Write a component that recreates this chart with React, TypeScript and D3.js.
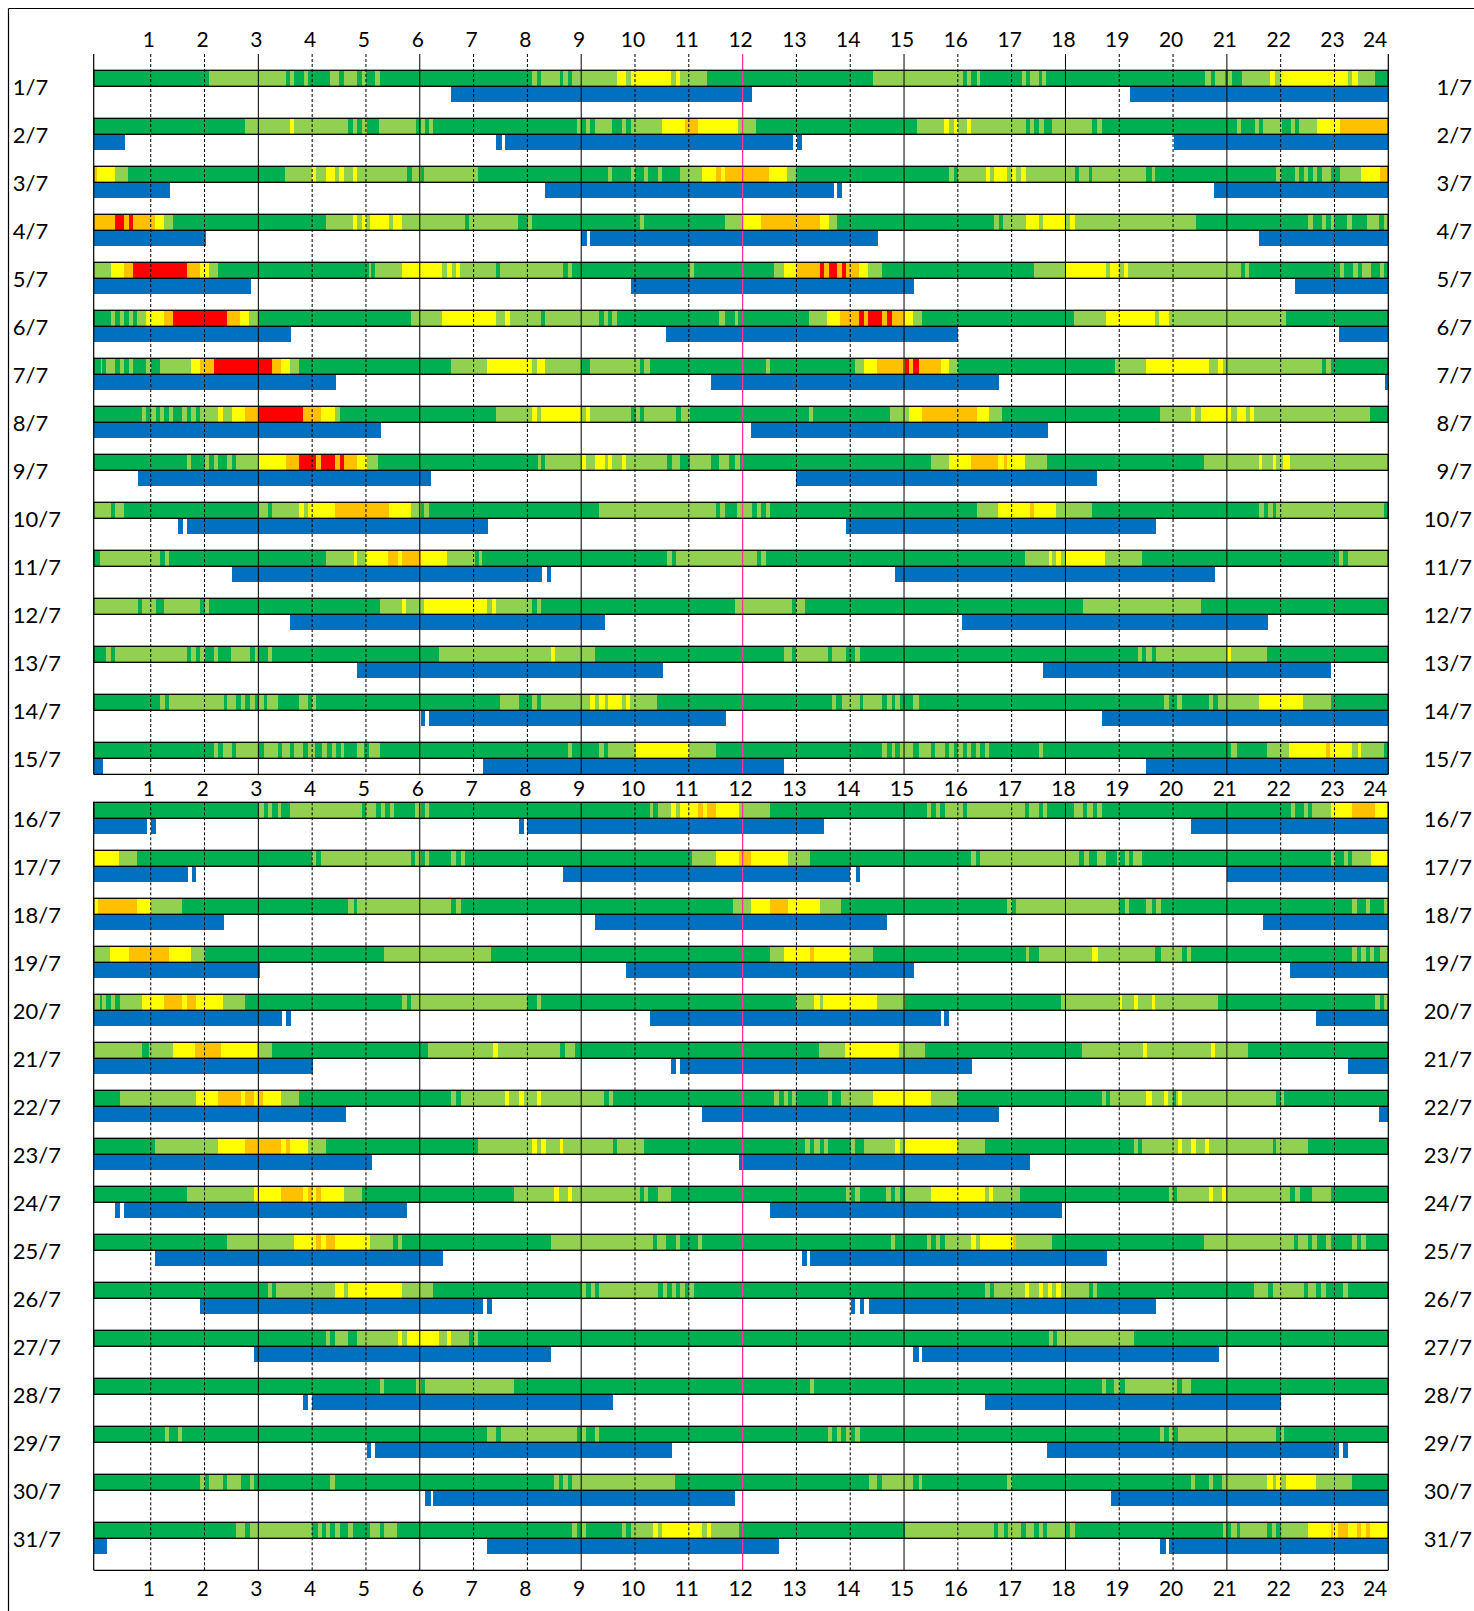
import React from 'react';
import * as d3 from 'd3';

const days = ['1/7','2/7','3/7','4/7','5/7','6/7','7/7','8/7','9/7','10/7','11/7','12/7','13/7','14/7','15/7','16/7','17/7','18/7','19/7','20/7','21/7','22/7','23/7','24/7','25/7','26/7','27/7','28/7','29/7','30/7','31/7'];
const hourTicks = [1,2,3,4,5,6,7,8,9,10,11,12,13,14,15,16,17,18,19,20,21,22,23,24];
const solidHours = [3,6,9,15,18,21];
const noonHour = 12;

// status timeline: "<code><start hour>" tokens; G dark green, L light green, Y yellow, O orange, R red
const statusRows = [
  "G0 L2.08 G3.52 L3.59 G3.66 L3.84 G3.92 L4.33 G4.5 L4.59 G4.84 L4.93 G5 L5.17 G5.26 L8.09 G8.17 L8.25 G8.6 L8.66 G8.76 L8.83 Y9.67 L9.84 Y9.93 L10.67 Y10.77 L10.83 G11.34 L14.43 G16.09 L16.17 G16.25 L16.35 G16.42 L17.19 G17.27 L17.35 G17.5 L17.56 G17.64 L20.6 G20.7 L20.78 G20.97 L21.03 G21.1 L21.28 Y21.8 L21.9 Y22 L23.25 Y23.33 L23.43 G23.76",
  "G0 L2.75 Y3.59 L3.66 G4.67 L4.76 G4.84 L4.93 G5.02 L5.25 G5.93 L6.02 G6.1 L6.18 G6.25 L8.93 G9 L9.09 G9.17 L9.26 G9.58 L9.76 G9.84 L9.93 Y10.51 O10.92 Y11.18 L11.92 G12.25 L15.24 Y15.75 L15.84 Y15.92 L16 Y16.17 L16.25 G17.26 L17.34 G17.42 L17.51 G17.6 L17.75 G18.5 L18.58 G18.67 L21.18 G21.26 L21.52 G21.6 L21.67 G22.02 L22.19 G22.27 L22.34 Y22.67 O23.1",
  "O-0.06 Y0 L0.34 G0.58 L3.5 Y4 L4.08 Y4.26 L4.42 Y4.5 L4.59 Y4.76 L4.84 G5.77 L5.85 G6.02 L6.08 G7.08 L9.5 G9.58 L9.93 G10 L10.17 G10.24 L10.43 G10.5 L10.84 Y11.25 O11.51 Y11.59 O11.67 Y12.49 L12.83 G13 L15.84 G15.92 L16 Y16.52 L16.6 Y16.68 L16.92 Y17 L17.09 Y17.18 L17.26 G18.17 L18.26 G18.43 L18.5 G19.5 L19.6 G19.67 L21.92 G22 L22.26 G22.34 L22.43 G22.51 L22.6 G22.68 L22.76 G22.93 L23.1 Y23.5 O23.84",
  "O0 R0.34 O0.5 R0.6 O0.67 Y1.08 L1.25 G1.41 L4.26 Y4.76 L4.84 Y4.93 L5 Y5.08 L5.43 Y5.51 L5.67 G6.84 L6.92 G7.83 L8.01 G8.09 L10.09 G10.17 L11.68 Y12 O12.35 Y13.43 L13.6 G13.76 L16.68 G16.76 L16.84 Y17.26 L17.51 Y17.59 L18 Y18.09 L18.17 G20.42 L22.5 G22.6 L22.76 G22.84 L22.93 G23 L23.24 G23.33 L23.6 G23.83 L23.92",
  "L0 Y0.27 O0.51 R0.67 O1.67 Y1.92 L2.08 G2.25 L5.06 G5.1 L5.17 Y5.67 L6.42 Y6.51 L6.6 Y6.67 L6.75 G7.42 L7.5 G8.66 L8.76 G8.83 L11.03 G11.1 L12.59 Y12.76 O13 R13.43 O13.51 R13.6 O13.76 R13.84 O13.92 Y14.17 L14.33 G14.59 L17.42 Y18 L18.75 Y18.83 L19 Y19.08 L19.16 G21.26 L21.34 G21.42 L23.1 G23.17 L23.34 G23.43 L23.51 G23.68 L23.84 G23.92",
  "G0 L0.27 G0.34 L0.42 G0.51 L0.59 G0.67 L0.75 Y0.92 O1.25 R1.42 O2.42 Y2.65 L2.82 G3 L5.84 Y6.42 L7.42 Y7.58 L7.67 G8.25 L8.33 G9.33 L9.42 G9.5 L9.58 G9.67 L11.57 G11.67 L11.85 G11.92 L13.23 Y13.57 O13.81 R14.17 O14.25 R14.33 O14.59 R14.68 O14.77 Y15.02 L15.17 G15.33 L18.16 Y18.75 L19.67 Y19.74 L19.92 G22.09",
  "G0 L0.07 G0.1 L0.17 G0.34 L0.42 G0.51 L0.59 G0.67 L0.92 G1 L1.17 Y1.75 O1.92 R2.18 O3.26 Y3.43 L3.59 G3.76 L6.58 Y7.25 L8.09 Y8.17 L8.33 G9.01 L9.17 G10.09 L10.17 G10.27 L12.43 G12.5 L14.09 Y14.26 O14.5 R15.02 O15.1 R15.17 O15.27 Y15.68 L15.84 G16 L18.93 Y19.5 L20.67 Y20.84 L20.92 G22.76 L22.84 G22.93",
  "G0 L0.84 G0.92 L1.01 G1.09 L1.17 G1.25 L1.34 G1.42 L1.58 G1.67 L1.75 G1.84 L1.92 Y2.25 L2.34 Y2.51 O2.75 R3 O3.83 Y4.16 L4.43 G4.51 L7.42 Y8.09 L8.17 Y8.25 L9 Y9.09 L9.17 G9.93 L10.01 G10.09 L10.17 G10.77 L10.85 G11.03 L13.23 G13.31 L14.74 Y15.1 O15.34 Y16.35 L16.58 G16.82 L19.76 Y20.34 L20.41 Y20.51 L21.08 Y21.18 L21.35 Y21.43 L21.5 G23.66",
  "G0 L1.67 G1.75 L2 G2.08 L2.17 G2.25 L2.42 G2.51 L2.59 Y3 O3.51 R3.76 O4.08 R4.16 O4.43 R4.51 O4.59 Y4.84 L5.02 G5.23 L8.19 G8.25 L8.33 Y9 L9.09 Y9.26 L9.44 Y9.5 L9.58 Y9.76 L9.84 G10.6 L10.68 G10.84 L11.03 G11.42 L11.57 G11.75 L11.85 G11.95 L15.51 Y15.84 O16.25 Y16.75 O16.85 Y16.91 L17.25 G17.66 L20.58 Y21.59 L21.66 Y21.85 L21.92 Y22.05 L22.18",
  "L0 G0.27 L0.34 G0.51 L3 G3.18 L3.26 Y3.76 L3.84 Y3.92 O4.43 Y5.43 L5.84 G6.02 L6.07 G6.17 L9.33 G11.5 L11.58 G11.68 L11.9 G12.18 L12.26 G12.35 L12.43 G12.5 L16.35 Y16.75 O17.34 Y17.41 L17.83 G18.5 L21.59 G21.69 L21.76 G21.85 L21.92 G23.92",
  "G0 L0.05 G1.17 L1.27 G1.34 L4.26 Y4.77 L4.84 Y5 O5.41 Y5.59 O5.67 Y6.02 L6.51 G7.03 L7.1 G7.16 L10.6 G10.68 L10.77 G12.26 L12.35 G12.43 L17.25 Y17.69 L17.75 Y17.83 L17.91 Y18 L18.74 G19.43 L23.09 G23.16 L23.26",
  "L0 G0.77 L0.84 G1.09 L1.25 G1.92 L2 G2.08 L5.27 Y5.67 L5.74 Y6.07 L7.25 Y7.35 L7.42 G8.09 L8.18 G8.25 L11.85 G12.92 L13 G13.16 L18.33 G20.51",
  "G0 L0.17 G0.27 L0.34 G1.67 L1.75 G1.84 L1.92 G2 L2.17 G2.25 L2.5 G2.85 L2.93 G3 L3.18 G3.26 L6.35 Y8.43 L8.51 G9.26 L12.76 G12.92 L13 G13.59 L13.66 G13.93 L14.09 G14.18 L19.34 G19.42 L19.49 G19.6 L19.68 Y21 L21.08 G21.75",
  "G0 L1.17 G1.27 L1.34 G2.36 L2.42 G2.59 L2.67 G2.75 L2.85 G2.93 L3 G3.11 L3.16 G3.36 L3.76 G3.93 L4 G4.08 L7.5 G7.85 L8.09 G8.18 L8.25 Y9.17 L9.26 Y9.34 L9.44 Y9.5 L9.76 Y9.84 L9.91 G10.41 L13.66 G13.74 L13.84 G14.18 L14.24 G14.59 L14.68 G14.77 L14.84 G14.93 L15.17 G15.27 L19.84 G19.92 L20.08 G20.17 L20.67 G20.75 L20.84 Y21.59 L22.42 G22.93",
  "G0 L2.17 G2.25 L2.34 G2.51 L2.59 G3 L3.1 G3.36 L3.44 G3.59 L3.67 G3.83 L3.92 G4.06 L4.18 G4.28 L4.37 G4.45 L4.53 G4.59 L4.84 G4.96 L5.06 G5.27 L8.76 G8.83 L9.34 G9.42 L9.5 Y10.02 L11.01 G11.51 L14.59 G14.68 L14.77 G14.84 L14.93 G15.17 L15.27 G15.51 L15.58 G15.76 L15.84 G15.93 L16.01 G16.09 L16.17 G16.25 L16.33 G16.42 L16.5 G16.58 L17.51 G17.59 L21.08 G21.18 L21.75 Y22.16 O22.84 Y22.92 L23.33 Y23.43 L23.5 G23.92",
  "G0 L3 G3.1 L3.18 G3.26 L3.36 G3.43 L3.59 G4.92 L5 G5.19 L5.28 G5.35 L5.45 G5.52 L5.92 G6.02 L6.1 G6.17 L10.27 G10.34 L10.42 Y10.67 L10.77 Y10.84 O11.18 Y11.26 O11.34 Y11.51 L11.93 G12.5 L15.43 G15.51 L15.59 G15.67 L15.76 G16.09 L16.17 G17.25 L17.33 G17.5 L17.58 G17.66 L18.16 G18.33 L18.4 G18.51 L18.59 G18.67 L22.19 G22.27 L22.43 G22.5 L22.58 Y22.93 O23.33 Y23.76",
  "Y0 L0.41 G0.74 L4 G4.08 L4.16 G5.84 L5.92 G6.02 L6.1 G6.17 L6.58 G6.68 L6.76 G6.84 L11.06 Y11.51 O11.93 Y12.16 L12.85 G13.25 L16.25 G16.34 L16.41 G18.25 L18.34 G18.43 L18.59 G18.75 L18.95 G19.02 L19.1 G19.18 L19.26 G19.43 L22.93 G23.01 L23.17 G23.26 L23.33 Y23.67",
  "Y0 O0.02 Y0.74 L1.01 G1.58 L4.67 G4.77 L4.84 G6.58 L6.68 G6.76 L11.82 Y12.16 O12.5 Y12.85 L13.43 G13.83 L16.92 G17 L17.08 G19 L19.1 G19.18 L19.49 G19.6 L19.68 G19.77 L23.33 G23.42 L23.58 G23.66 L23.92",
  "L0 Y0.24 O0.59 Y1.34 L1.75 G2.01 L5.34 G7.32 L12.51 Y12.76 O13.25 Y13.33 L14 G14.43 L17.26 G17.33 L17.5 Y18.5 L18.6 G19.67 L19.77 G20.17 L20.25 G20.34 L23.33 G23.42 L23.5 G23.58 L23.66 G23.74 L23.84",
  "L0 G0.05 L0.09 G0.17 L0.27 G0.34 L0.42 Y0.84 O1.25 Y1.58 O1.67 Y1.85 L2.34 G2.75 L5.67 G5.76 L5.84 G8 L8.18 G8.25 L13 Y13.33 L13.43 Y13.5 L14.5 G15.02 L17.92 Y19.01 L19.06 Y19.27 L19.34 Y19.6 L19.67 G20.84 L23.76 G23.84 L23.92",
  "L0 G0.83 L0.97 Y1.41 O1.83 Y2.3 L2.97 G3.26 L6.16 Y7.37 L7.46 G8.61 L8.7 G8.89 L13.42 Y13.9 L14.91 G15.39 L18.31 Y19.45 L19.52 Y20.7 L20.77 G21.4",
  "G0 L0.43 Y1.85 O2.25 Y2.67 O2.75 Y2.92 O3 Y3.09 L3.43 G3.76 L6.58 G6.68 L6.76 Y7.58 L7.66 Y7.85 L7.93 Y8.18 L8.26 G9.43 L9.52 G9.6 L12.59 G12.67 L12.76 G12.84 L12.92 G13 L13.59 G13.67 L13.83 Y14.43 L15.51 G15.99 L18.67 G18.75 L18.83 Y19.5 L19.6 Y19.83 L19.91 G20 L20.05 Y20.1 L20.17 G21.92 L22 G22.07",
  "G0 L1.08 Y2.25 O2.75 Y3.43 O3.51 Y3.59 L3.93 G4.26 L7.09 Y8.09 L8.18 Y8.26 L8.35 Y8.6 L8.66 G9.6 L9.67 G10.17 L13.16 G13.25 L13.33 G13.43 L13.51 G13.59 L14.01 G14.09 L14.26 Y14.83 L14.93 Y15.02 L15.99 G16.5 L19.27 G19.34 L19.42 Y20.1 L20.17 Y20.33 L20.42 Y20.59 L20.67 G21.85 L21.92 G22.51",
  "G0 L1.67 Y2.92 O3.43 Y3.83 O3.93 Y4 O4.08 Y4.16 L4.59 G4.93 L7.75 Y8.5 L8.58 Y8.76 L8.83 G10.09 L10.16 G10.24 L10.43 G10.67 L13.93 G14.01 L14.09 G14.18 L14.67 G14.76 L14.84 G14.93 L15.02 Y15.51 L16.51 Y16.58 L16.66 G17.16 L19.92 G20 L20.08 Y20.67 L20.75 Y20.91 L20.99 G22.18 L22.27 G22.35 L22.59 G22.93",
  "G0 L2.42 Y3.66 O4.08 Y4.16 O4.26 Y4.43 L5.08 G5.51 L5.59 G5.67 L8.43 G10.34 L10.41 G10.58 L10.77 G10.84 L11.18 G11.25 L14.76 G14.84 L15.43 G15.51 L15.59 G15.67 L15.76 Y16.25 L16.34 Y16.41 O17.02 L17.09 G17.75 L20.58 G22.25 L22.33 G22.5 L22.59 G22.67 L22.84 G22.93 L23.33 G23.42 L23.5 G23.59",
  "G0 L3.18 G3.26 L3.33 Y4.43 L4.59 Y4.67 L5.67 G6.25 L9 G9.09 L9.18 G9.26 L9.34 G10.43 L10.52 G10.6 L10.68 G10.77 L10.84 G10.92 L11.01 G11.09 L16.51 G16.59 L16.67 Y17.25 L17.33 Y17.51 L17.59 Y17.68 L17.75 Y17.83 L17.91 G18.43 L18.51 G18.59 L21.51 G21.76 L21.85 G22.43 L22.5 G22.66 L22.74 G22.84 L23.16 G23.25",
  "G0 L4.26 G4.34 L4.43 G4.67 L4.84 Y5.59 L5.67 Y5.77 L6.35 Y6.51 L6.58 G6.92 L7 G7.09 L17.69 G17.77 L17.85 G19.27",
  "G0 L5.27 G5.34 L5.93 G6.02 L6.1 G7.75 L13.25 G13.33 L18.67 G18.75 L18.9 G19.02 L19.1 G20.08 L20.17 G20.34",
  "G0 L1.27 G1.34 L1.51 G1.58 L7.25 G7.42 L7.51 G8.93 L9 G9.09 L9.26 G9.34 L13.59 G13.67 L13.76 G13.83 L13.93 G14.01 L14.09 G14.18 L19.76 G19.84 L19.92 G20 L20.1 G21.92 L22 G22.07",
  "G0 L1.92 G2 L2.08 G2.35 L2.42 G2.67 L2.85 G2.92 L4.34 G4.43 L8.5 G8.58 L8.66 G8.76 L8.83 G10.75 L14.34 G14.5 L14.59 G15.17 L15.27 G15.34 L16.92 G17 L20.34 G20.41 L20.67 G20.75 L20.91 Y21.75 L21.85 Y21.92 L22 Y22.09 L22.66 G23.33",
  "G0 L2.59 G2.76 L2.84 G4 L4.1 G4.18 L4.26 G4.33 L4.43 G4.51 L4.67 G4.76 L5.08 G5.26 L5.34 G5.58 L8.83 G8.93 L9.01 G9.09 L9.76 G9.84 L9.93 Y10.34 L10.43 Y10.51 L11.25 Y11.34 L11.42 G11.93 L15.02 G16.68 L16.75 G16.85 L16.93 G17.18 L17.26 G17.42 L17.5 G17.59 L17.65 G18 L18.09 G18.17 L20.92 G21 L21.08 G21.18 L21.25 G21.75 L21.84 G21.92 L22 Y22.5 O22.93 Y22.97 O23.07 Y23.26 O23.42 Y23.5 O23.58 Y23.66"
];

// sleep periods [start, end] in hours
const sleepRows: number[][][] = [
  [[6.58,12.18],[19.2,24]],
  [[0,0.52],[7.42,7.52],[7.59,12.94],[13.02,13.11],[20.02,24]],
  [[0,1.36],[8.33,13.69],[13.76,13.85],[20.76,24]],
  [[0,2.02],[9.0,9.1],[9.17,14.52],[21.6,24]],
  [[0,2.86],[9.93,15.19],[22.26,24]],
  [[0,3.61],[10.58,16.0],[23.09,24]],
  [[0,4.44],[11.42,16.77],[23.93,24]],
  [[0,5.28],[12.16,17.68]],
  [[0.77,6.2],[13.0,18.59]],
  [[1.51,1.6],[1.67,7.27],[13.93,19.69]],
  [[2.51,8.28],[8.36,8.44],[14.84,20.77]],
  [[3.59,9.44],[16.08,21.77]],
  [[4.84,10.52],[17.59,22.94]],
  [[6.02,6.1],[6.17,11.7],[18.67,24]],
  [[0,0.11],[7.17,12.77],[19.5,24]],
  [[0,0.93],[1.01,1.1],[7.85,7.93],[8.0,13.51],[20.34,24]],
  [[0,1.7],[1.76,1.85],[8.66,14.0],[14.1,14.18],[21.0,24]],
  [[0,2.36],[9.26,14.69],[21.68,24]],
  [[0,3.03],[9.84,15.19],[22.18,24]],
  [[0,3.44],[3.51,3.61],[10.27,15.69],[15.75,15.84],[22.66,24]],
  [[0,4.01],[10.67,10.77],[10.84,16.27],[23.25,24]],
  [[0,4.62],[11.25,16.77],[23.83,24]],
  [[0,5.12],[11.93,17.35]],
  [[0.34,0.43],[0.51,5.77],[12.51,17.94]],
  [[1.08,6.43],[13.1,13.19],[13.25,18.78]],
  [[1.92,7.17],[7.25,7.35],[14.01,14.09],[14.18,14.26],[14.34,19.69]],
  [[2.92,8.44],[15.17,15.27],[15.34,20.86]],
  [[3.83,3.93],[4.0,9.59],[16.5,22.0]],
  [[5.01,5.09],[5.17,10.69],[17.66,23.09],[23.16,23.26]],
  [[6.1,6.2],[6.25,11.85],[18.84,24]],
  [[0,0.18],[7.25,12.68],[19.76,19.86],[19.93,24]]
];

const statusColors: Record<string, string> = {
  G: '#00B050', L: '#92D050', Y: '#FFFF00', O: '#FFC000', R: '#FF0000'
};
const sleepColor = '#0070C0';

const X_MIN = -0.06;
const FONT = 'Lato, "Open Sans", sans-serif';

function parseStatus(s: string) {
  const toks = s.trim().split(/\s+/);
  const starts = toks.map((t, i) => ({ c: t[0], s: i === 0 ? X_MIN : parseFloat(t.slice(1)) }));
  return starts.map((d, i) => ({ c: d.c, s: Math.max(X_MIN, d.s), e: i < starts.length - 1 ? starts[i + 1].s : 24 }));
}

export default function App() {
  const x = d3.scaleLinear().domain([X_MIN, 24]).range([93.7, 1388.3]);
  const barH = 16;
  const rowPitch = 48;
  const splitAt = 15;
  const colorTop = (i: number) => (i < splitAt ? 70.3 + rowPitch * i : 802.3 + rowPitch * (i - splitAt));
  const panels = [
    { top: 54, bottom: 774.3 },
    { top: 802.3, bottom: 1570.3 }
  ];
  const tickBaselines = [46.7, 795.7, 1595.7];
  const gridHours = hourTicks.filter(h => h < 24);

  return (
    <svg width={1474} height={1611} style={{ position: 'absolute', left: 0, top: 0, display: 'block', background: '#fff' }}
      fontFamily={FONT}>
      <rect x={0} y={0} width={1474} height={1611} fill="#fff" />
      {/* outer frame */}
      <line x1={8.5} y1={8.5} x2={1474} y2={8.5} stroke="#000" strokeWidth={1.2} />
      <line x1={8.5} y1={8.5} x2={8.5} y2={1611} stroke="#000" strokeWidth={1.2} />

      {/* status bars */}
      {statusRows.map((row, i) => {
        const segs = parseStatus(row);
        const y = colorTop(i);
        return (
          <g key={'s' + i}>
            {segs.map((sg, j) => (
              <rect key={j} x={x(sg.s)} y={y} width={Math.max(0, x(sg.e) - x(sg.s)) + 0.4} height={barH}
                fill={statusColors[sg.c]} shapeRendering="crispEdges" />
            ))}
          </g>
        );
      })}

      {/* sleep bars */}
      {sleepRows.map((row, i) => {
        const y = colorTop(i) + barH;
        return (
          <g key={'b' + i}>
            {row.map((p, j) => {
              const x0 = p[0] <= 0 ? x(X_MIN) : x(p[0]);
              return <rect key={j} x={x0} y={y} width={x(p[1]) - x0} height={barH} fill={sleepColor} shapeRendering="crispEdges" />;
            })}
          </g>
        );
      })}

      {/* grid lines */}
      {panels.map((p, k) => (
        <g key={'g' + k}>
          {gridHours.map(h => {
            const xx = x(h);
            if (h === noonHour) return <line key={h} x1={xx} x2={xx} y1={p.top} y2={p.bottom} stroke="#FF3399" strokeWidth={1.3} />;
            if (solidHours.includes(h)) return <line key={h} x1={xx} x2={xx} y1={p.top} y2={p.bottom} stroke="#000" strokeWidth={1} />;
            return <line key={h} x1={xx} x2={xx} y1={p.top} y2={p.bottom} stroke="#000" strokeWidth={1} strokeDasharray="3,2" />;
          })}
          <line x1={x(X_MIN)} x2={x(X_MIN)} y1={p.top} y2={p.bottom} stroke="#000" strokeWidth={1.2} />
          <line x1={x(24)} x2={x(24)} y1={p.top} y2={p.bottom} stroke="#000" strokeWidth={1.2} />
          <line x1={x(X_MIN)} x2={x(24)} y1={p.bottom} y2={p.bottom} stroke="#000" strokeWidth={1.2} />
        </g>
      ))}

      {/* status bar outlines */}
      {statusRows.map((_, i) => (
        <rect key={'o' + i} x={x(X_MIN)} y={colorTop(i)} width={x(24) - x(X_MIN)} height={barH}
          fill="none" stroke="#000" strokeWidth={1.3} />
      ))}

      {/* hour tick labels */}
      {tickBaselines.map((by, k) => (
        <g key={'t' + k} fontSize={21} fill="#000">
          {hourTicks.map(h => (
            h === 24
              ? <text key={h} x={x(24) - 1} y={by} textAnchor="end">{h}</text>
              : <text key={h} x={x(h) - 2} y={by} textAnchor="middle">{h}</text>
          ))}
        </g>
      ))}

      {/* day labels */}
      {days.map((d, i) => {
        const by = colorTop(i) + barH + 8.7;
        return (
          <g key={'d' + i} fontSize={22} fill="#000">
            <text x={12.7} y={by} textAnchor="start">{d}</text>
            <text x={1472} y={by} textAnchor="end">{d}</text>
          </g>
        );
      })}
    </svg>
  );
}
